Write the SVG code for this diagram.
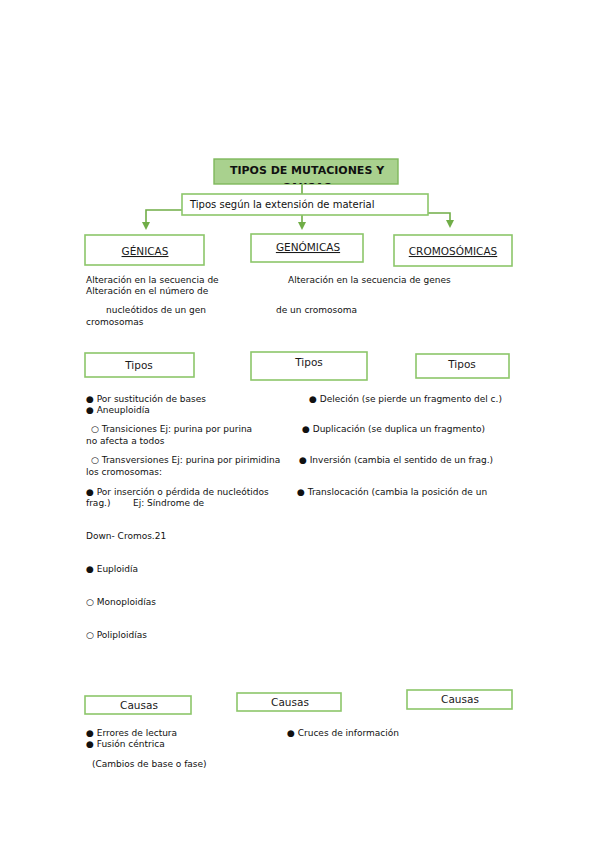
<svg xmlns="http://www.w3.org/2000/svg" width="599" height="848" viewBox="0 0 599 848">
<style>
.box{fill:#ffffff;stroke:#8cc66a;stroke-width:1.6}
.title{fill:#a9d18e;stroke:#7fb85c;stroke-width:1.4}
.lbl{font-family:"DejaVu Sans",sans-serif;font-size:10.5px;fill:#1a1a1a;text-anchor:middle}
.ul{text-decoration:underline}
.t{font-family:"DejaVu Sans",sans-serif;font-size:9px;fill:#111}
.conn{fill:none;stroke:#70ad47;stroke-width:1.6}
</style>
<defs>
<marker id="arr" markerWidth="8" markerHeight="8" refX="4" refY="4" orient="auto" markerUnits="userSpaceOnUse">
<path d="M0,0 L8,4 L0,8 z" fill="#70ad47"/>
</marker>
<clipPath id="tclip"><rect x="214" y="159" width="184" height="25"/></clipPath>
</defs>
<rect width="599" height="848" fill="#ffffff"/>
<g id="connectors">
<path class="conn" d="M302,184 V194"/>
<path class="conn" d="M302,215 V226" marker-end="url(#arr)"/>
<path class="conn" d="M182,210 H146 V226" marker-end="url(#arr)"/>
<path class="conn" d="M428,213 H450 V224" marker-end="url(#arr)"/>
</g>
<g id="title">
<rect class="title" x="214" y="159" width="184" height="25"/>
<g clip-path="url(#tclip)">
<text x="307" y="174" font-family="'DejaVu Sans',sans-serif" font-size="11px" font-weight="bold" text-anchor="middle" fill="#111">TIPOS DE MUTACIONES Y</text>
<text x="307" y="190.5" font-family="'DejaVu Sans',sans-serif" font-size="11px" font-weight="bold" text-anchor="middle" fill="#111">CAUSAS</text>
</g>
</g>
<g id="extension">
<rect class="box" x="182" y="194" width="246" height="21"/>
<text x="190" y="208" font-family="'DejaVu Sans',sans-serif" font-size="10px" fill="#111">Tipos según la extensión de material</text>
</g>
<g id="genicas">
<rect class="box" x="85" y="235" width="119" height="30"/>
<text class="lbl ul" x="145" y="255">GÉNICAS</text>
</g>
<g id="genomicas">
<rect class="box" x="251" y="234" width="112" height="28"/>
<text class="lbl ul" x="308" y="251">GENÓMICAS</text>
</g>
<g id="cromosomicas">
<rect class="box" x="394" y="235" width="118" height="31"/>
<text class="lbl ul" x="453" y="255">CROMOSÓMICAS</text>
</g>
<g id="descripciones">
<text class="t" x="86" y="283">Alteración en la secuencia de</text>
<text class="t" x="288" y="283">Alteración en la secuencia de genes</text>
<text class="t" x="86" y="294">Alteración en el número de</text>
<text class="t" x="106" y="313">nucleótidos de un gen</text>
<text class="t" x="276" y="313">de un cromosoma</text>
<text class="t" x="86" y="325">cromosomas</text>
</g>
<g id="tipos1">
<rect class="box" x="85" y="353" width="109" height="24"/>
<text class="lbl" x="139" y="369">Tipos</text>
</g>
<g id="tipos2">
<rect class="box" x="251" y="352" width="116" height="28"/>
<text class="lbl" x="309" y="366">Tipos</text>
</g>
<g id="tipos3">
<rect class="box" x="416" y="354" width="93" height="24"/>
<text class="lbl" x="462" y="368">Tipos</text>
</g>
<g id="listas">
<text class="t" x="86" y="402">● Por sustitución de bases</text>
<text class="t" x="309" y="402">● Deleción (se pierde un fragmento del c.)</text>
<text class="t" x="86" y="413">● Aneuploidía</text>
<text class="t" x="91" y="432">○ Transiciones Ej: purina por purina</text>
<text class="t" x="302" y="432">● Duplicación (se duplica un fragmento)</text>
<text class="t" x="86" y="444">no afecta a todos</text>
<text class="t" x="91" y="463">○ Transversiones Ej: purina por pirimidina</text>
<text class="t" x="299" y="463">● Inversión (cambia el sentido de un frag.)</text>
<text class="t" x="86" y="475">los cromosomas:</text>
<text class="t" x="86" y="495">● Por inserción o pérdida de nucleótidos</text>
<text class="t" x="297" y="495">● Translocación (cambia la posición de un</text>
<text class="t" x="86" y="506">frag.)</text>
<text class="t" x="133" y="506">Ej: Síndrome de</text>
<text class="t" x="86" y="539">Down- Cromos.21</text>
<text class="t" x="86" y="572">● Euploidía</text>
<text class="t" x="86" y="605">○ Monoploidías</text>
<text class="t" x="86" y="638">○ Poliploidías</text>
</g>
<g id="causas1">
<rect class="box" x="85" y="696" width="106" height="18"/>
<text class="lbl" x="139" y="709">Causas</text>
</g>
<g id="causas2">
<rect class="box" x="237" y="693" width="104" height="18"/>
<text class="lbl" x="290" y="706">Causas</text>
</g>
<g id="causas3">
<rect class="box" x="407" y="690" width="105" height="19"/>
<text class="lbl" x="460" y="703">Causas</text>
</g>
<g id="causas-texto">
<text class="t" x="86" y="736">● Errores de lectura</text>
<text class="t" x="287" y="736">● Cruces de información</text>
<text class="t" x="86" y="747">● Fusión céntrica</text>
<text class="t" x="92" y="767">(Cambios de base o fase)</text>
</g>
</svg>
